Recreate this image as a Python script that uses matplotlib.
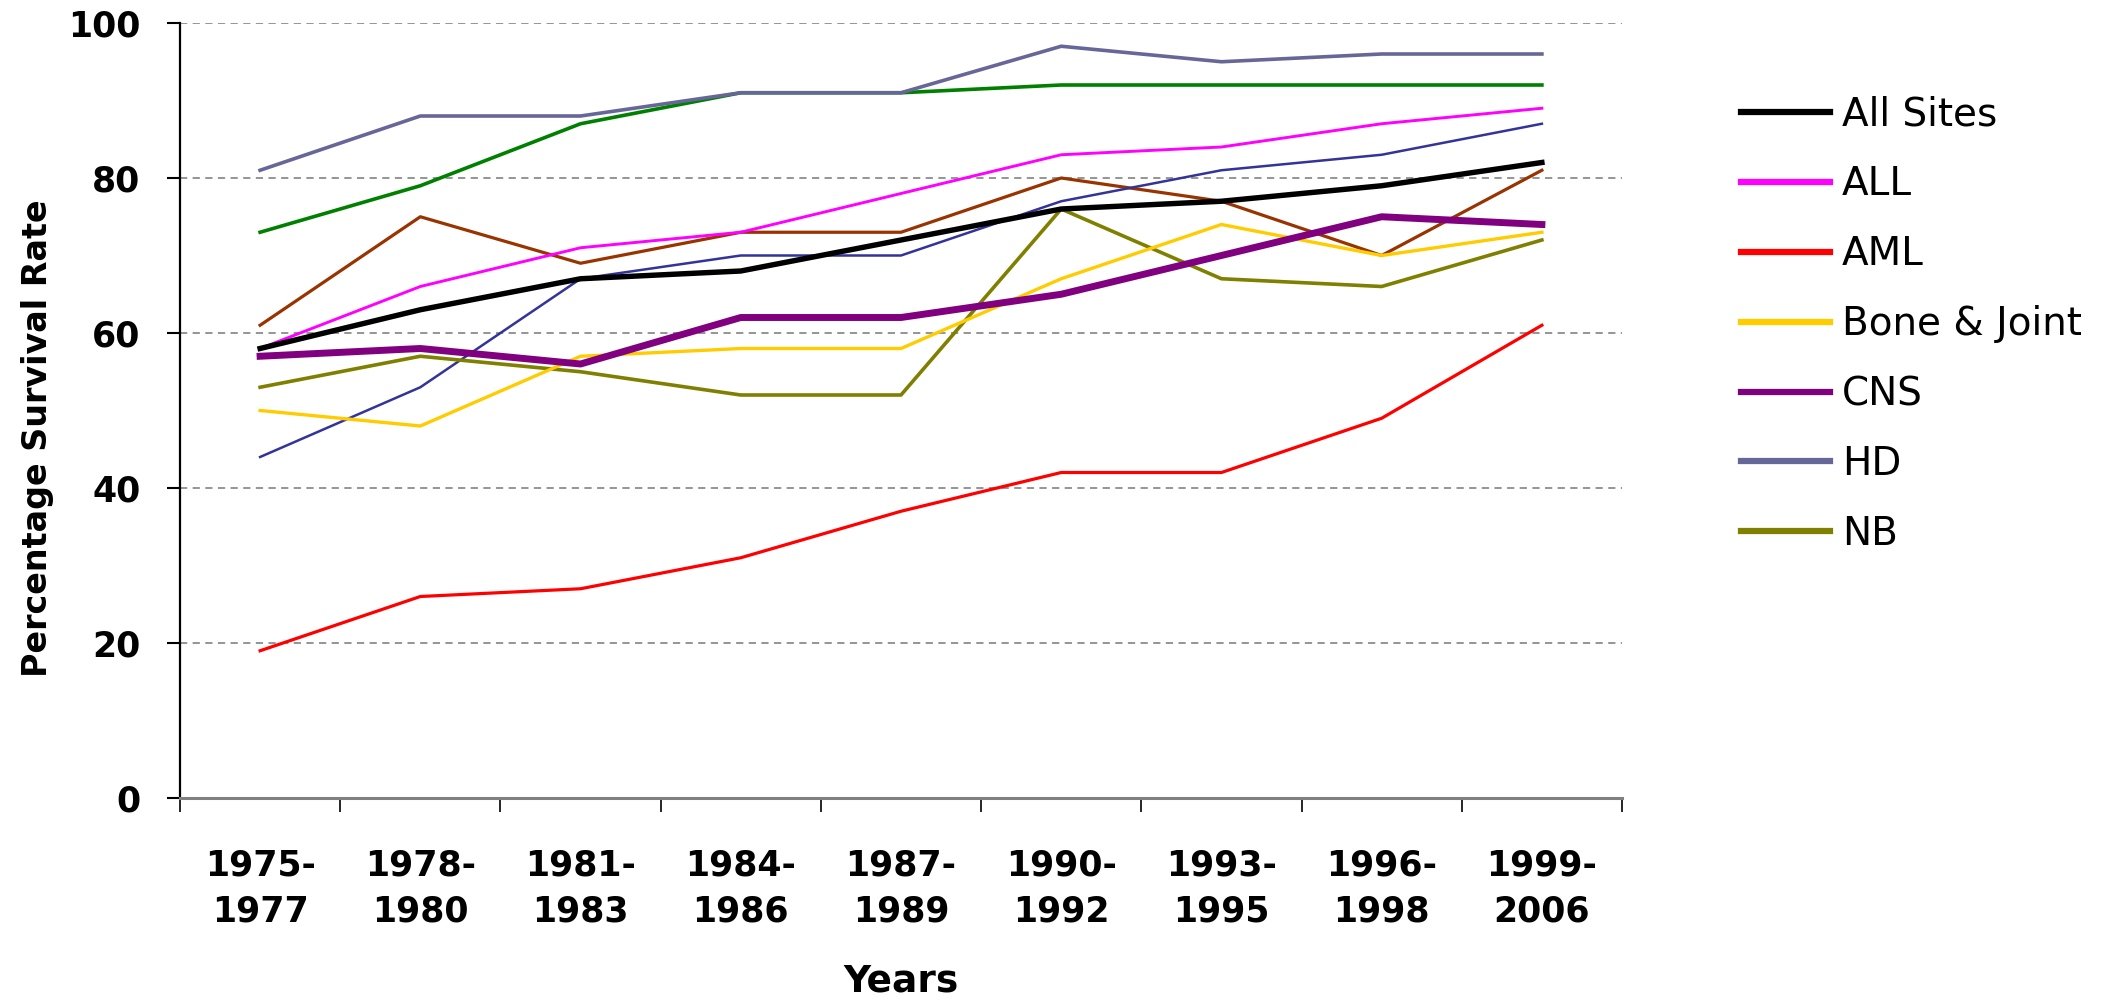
import matplotlib
matplotlib.use("Agg")
import matplotlib.pyplot as plt
import numpy as np

# survival rates (%) by diagnosis period
periods = ["1975-\n1977", "1978-\n1980", "1981-\n1983", "1984-\n1986", "1987-\n1989",
           "1990-\n1992", "1993-\n1995", "1996-\n1998", "1999-\n2006"]

all_sites = [58, 63, 67, 68, 72, 76, 77, 79, 82]
all_leuk = [58, 66, 71, 73, 78, 83, 84, 87, 89]
aml = [19, 26, 27, 31, 37, 42, 42, 49, 61]
bone_joint = [50, 48, 57, 58, 58, 67, 74, 70, 73]
cns = [57, 58, 56, 62, 62, 65, 70, 75, 74]
hd = [81, 88, 88, 91, 91, 97, 95, 96, 96]
nb = [53, 57, 55, 52, 52, 76, 67, 66, 72]
# three more series drawn in the chart but not listed in its legend
extra_green = [73, 79, 87, 91, 91, 92, 92, 92, 92]
extra_brown = [61, 75, 69, 73, 73, 80, 77, 70, 81]
extra_blue = [44, 53, 67, 70, 70, 77, 81, 83, 87]

yticks = [0, 20, 40, 60, 80, 100]

fig = plt.figure(figsize=(21.13, 10), dpi=100)
ax = fig.add_axes([180 / 2113, 1 - 798 / 1000, (1622 - 180) / 2113, (798 - 23) / 1000])

x = np.arange(len(periods))

ax.plot(x, extra_green, color="#008000", lw=2.6, label="_nolegend_")
ax.plot(x, extra_brown, color="#993300", lw=2.3, label="_nolegend_")
ax.plot(x, extra_blue, color="#333399", lw=1.8, label="_nolegend_")

h_hd, = ax.plot(x, hd, color="#666699", lw=2.6, label="HD")
h_nb, = ax.plot(x, nb, color="#808000", lw=2.6, label="NB")
h_bone, = ax.plot(x, bone_joint, color="#FFCC00", lw=2.4, label="Bone & Joint")
h_aml, = ax.plot(x, aml, color="#FF0000", lw=2.3, label="AML")
h_all, = ax.plot(x, all_leuk, color="#FF00FF", lw=2.1, label="ALL")
h_cns, = ax.plot(x, cns, color="#800080", lw=5.0, label="CNS")
h_sites, = ax.plot(x, all_sites, color="black", lw=3.9, label="All Sites")

ax.set_xlim(-0.5, len(periods) - 0.5)
ax.set_ylim(0, 100)

ax.set_yticks(yticks)
ax.set_yticklabels([str(v) for v in yticks])
for v in yticks[1:]:
    ax.axhline(v, color="#8c8c8c", lw=1.3, ls=(0, (4, 3)), zorder=0)

ax.set_xticks(x)
ax.set_xticklabels(periods, linespacing=1.45)
ax.set_xticks(np.arange(len(periods) + 1) - 0.5, minor=True)
ax.tick_params(axis="x", which="major", length=0, pad=36, labelsize=25)
ax.tick_params(axis="x", which="minor", length=10, width=1.2, direction="out")
ax.tick_params(axis="y", length=9.5, width=1.5, direction="out", pad=19, labelsize=25)

for lab in ax.get_xticklabels() + ax.get_yticklabels():
    lab.set_fontweight("bold")

for side in ["top", "right"]:
    ax.spines[side].set_visible(False)
ax.spines["left"].set_linewidth(1.6)
ax.spines["bottom"].set_color("#808080")
ax.spines["bottom"].set_linewidth(2.2)

fig.text(38 / 2113, 1 - 438 / 1000, "Percentage Survival Rate", rotation=90,
         ha="center", va="center", fontsize=24, fontweight="bold")
fig.text(901 / 2113, 1 - 981 / 1000, "Years", ha="center", va="center",
         fontsize=27, fontweight="bold")

handles = [h_sites, h_all, h_aml, h_bone, h_cns, h_hd, h_nb]
leg = fig.legend(handles=handles, labels=[h.get_label() for h in handles],
                 loc="upper left", bbox_to_anchor=(1725 / 2113, 1 - 80 / 1000),
                 frameon=False, fontsize=28, handlelength=2.3, handletextpad=0.3,
                 labelspacing=0.82, borderaxespad=0)
for line in leg.get_lines():
    line.set_linewidth(4.5)

fig.savefig("out.png", dpi=100)
